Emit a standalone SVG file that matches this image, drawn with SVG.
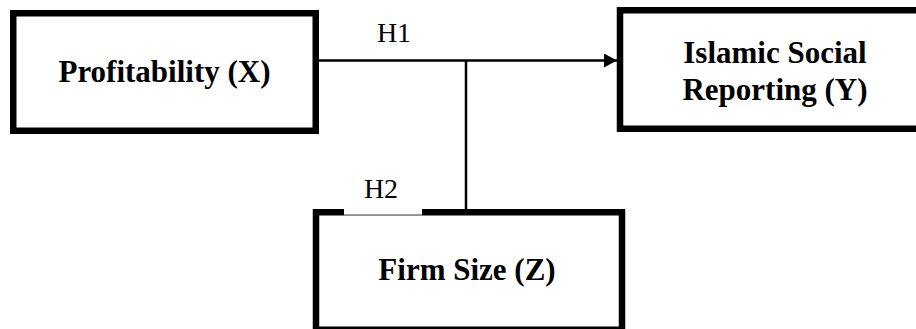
<svg xmlns="http://www.w3.org/2000/svg" width="916" height="329" viewBox="0 0 916 329">
<style>
.box{fill:#fff;stroke:#000;stroke-width:6.5}
.lbl{font-family:"Liberation Serif","Times New Roman",serif;font-weight:bold;font-size:31px;fill:#000;text-anchor:middle}
.h{font-family:"Liberation Serif","Times New Roman",serif;font-size:28px;fill:#000;text-anchor:middle}
.ln{stroke:#000;stroke-width:2.5;fill:none}
</style>
<defs>
<marker id="arr" markerWidth="13" markerHeight="14" refX="13" refY="7" orient="auto" markerUnits="userSpaceOnUse">
<path d="M0,0 L13,7 L0,14 Z" fill="#000"/>
</marker>
</defs>
<rect width="916" height="329" fill="#fff"/>
<g id="connectors">
<line class="ln" x1="319" y1="60.5" x2="617" y2="60.5" marker-end="url(#arr)"/>
<line class="ln" x1="466" y1="60.5" x2="466" y2="210"/>
</g>
<g id="profitability">
<rect class="box" x="13.25" y="13.25" width="302.5" height="117.5"/>
<text class="lbl" x="164.5" y="82">Profitability (X)</text>
</g>
<g id="isr">
<rect class="box" x="620" y="10.25" width="310" height="118.5"/>
<text class="lbl" x="775" y="63">Islamic Social</text>
<text class="lbl" x="775" y="100">Reporting (Y)</text>
</g>
<g id="firmsize">
<rect class="box" x="316" y="212.25" width="306" height="117.5"/>
<text class="lbl" x="467" y="280">Firm Size (Z)</text>
</g>
<g id="h1">
<text class="h" x="394" y="41.5">H1</text>
</g>
<g id="h2">
<rect x="344" y="205" width="78" height="9.5" fill="#fff"/>
<line x1="344" y1="214.9" x2="422" y2="214.9" stroke="#bbb" stroke-width="0.8"/>
<text class="h" x="381" y="197.5">H2</text>
</g>
</svg>
